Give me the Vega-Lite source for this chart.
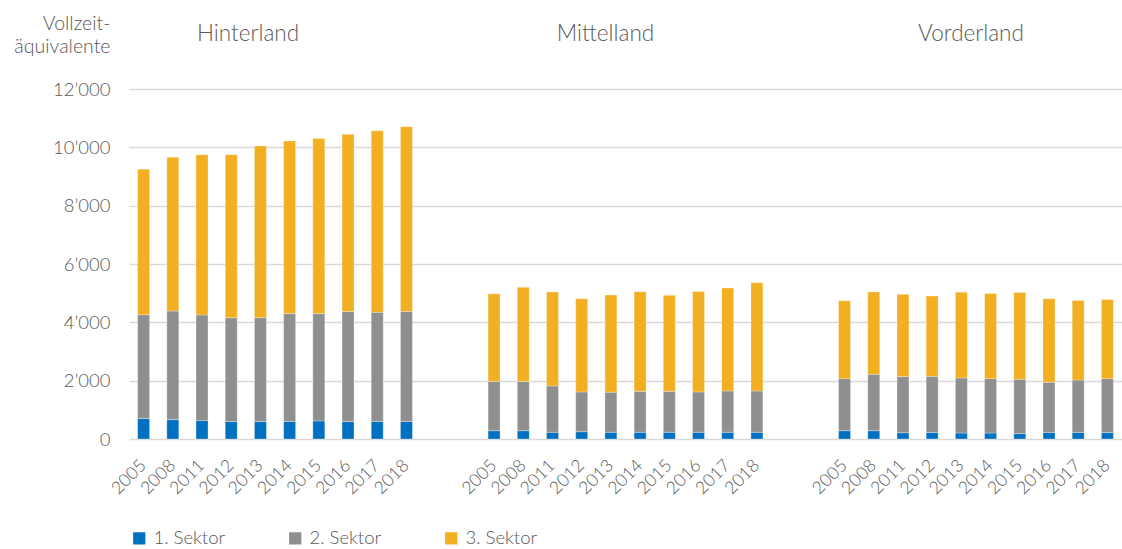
{
  "$schema": "https://vega.github.io/schema/vega-lite/v6.json",
  "width": 993,
  "height": 350,
  "autosize": {"type": "none"},
  "padding": {"left": 129, "top": 89, "right": 0, "bottom": 110},
  "background": "white",
  "config": {"view": {"stroke": null}, "font": "Lato"},
  "data": {
    "values": [
      {"region": "Hinterland", "year": "2005", "sector": "1. Sektor", "value": 700},
      {"region": "Hinterland", "year": "2005", "sector": "2. Sektor", "value": 3560},
      {"region": "Hinterland", "year": "2005", "sector": "3. Sektor", "value": 4990},
      {"region": "Hinterland", "year": "2008", "sector": "1. Sektor", "value": 665},
      {"region": "Hinterland", "year": "2008", "sector": "2. Sektor", "value": 3725},
      {"region": "Hinterland", "year": "2008", "sector": "3. Sektor", "value": 5270},
      {"region": "Hinterland", "year": "2011", "sector": "1. Sektor", "value": 630},
      {"region": "Hinterland", "year": "2011", "sector": "2. Sektor", "value": 3625},
      {"region": "Hinterland", "year": "2011", "sector": "3. Sektor", "value": 5490},
      {"region": "Hinterland", "year": "2012", "sector": "1. Sektor", "value": 600},
      {"region": "Hinterland", "year": "2012", "sector": "2. Sektor", "value": 3560},
      {"region": "Hinterland", "year": "2012", "sector": "3. Sektor", "value": 5590},
      {"region": "Hinterland", "year": "2013", "sector": "1. Sektor", "value": 600},
      {"region": "Hinterland", "year": "2013", "sector": "2. Sektor", "value": 3560},
      {"region": "Hinterland", "year": "2013", "sector": "3. Sektor", "value": 5890},
      {"region": "Hinterland", "year": "2014", "sector": "1. Sektor", "value": 600},
      {"region": "Hinterland", "year": "2014", "sector": "2. Sektor", "value": 3700},
      {"region": "Hinterland", "year": "2014", "sector": "3. Sektor", "value": 5920},
      {"region": "Hinterland", "year": "2015", "sector": "1. Sektor", "value": 620},
      {"region": "Hinterland", "year": "2015", "sector": "2. Sektor", "value": 3680},
      {"region": "Hinterland", "year": "2015", "sector": "3. Sektor", "value": 6000},
      {"region": "Hinterland", "year": "2016", "sector": "1. Sektor", "value": 600},
      {"region": "Hinterland", "year": "2016", "sector": "2. Sektor", "value": 3770},
      {"region": "Hinterland", "year": "2016", "sector": "3. Sektor", "value": 6080},
      {"region": "Hinterland", "year": "2017", "sector": "1. Sektor", "value": 600},
      {"region": "Hinterland", "year": "2017", "sector": "2. Sektor", "value": 3745},
      {"region": "Hinterland", "year": "2017", "sector": "3. Sektor", "value": 6220},
      {"region": "Hinterland", "year": "2018", "sector": "1. Sektor", "value": 600},
      {"region": "Hinterland", "year": "2018", "sector": "2. Sektor", "value": 3770},
      {"region": "Hinterland", "year": "2018", "sector": "3. Sektor", "value": 6340},
      {"region": "Mittelland", "year": "2005", "sector": "1. Sektor", "value": 285},
      {"region": "Mittelland", "year": "2005", "sector": "2. Sektor", "value": 1685},
      {"region": "Mittelland", "year": "2005", "sector": "3. Sektor", "value": 3010},
      {"region": "Mittelland", "year": "2008", "sector": "1. Sektor", "value": 285},
      {"region": "Mittelland", "year": "2008", "sector": "2. Sektor", "value": 1685},
      {"region": "Mittelland", "year": "2008", "sector": "3. Sektor", "value": 3230},
      {"region": "Mittelland", "year": "2011", "sector": "1. Sektor", "value": 230},
      {"region": "Mittelland", "year": "2011", "sector": "2. Sektor", "value": 1590},
      {"region": "Mittelland", "year": "2011", "sector": "3. Sektor", "value": 3220},
      {"region": "Mittelland", "year": "2012", "sector": "1. Sektor", "value": 250},
      {"region": "Mittelland", "year": "2012", "sector": "2. Sektor", "value": 1365},
      {"region": "Mittelland", "year": "2012", "sector": "3. Sektor", "value": 3195},
      {"region": "Mittelland", "year": "2013", "sector": "1. Sektor", "value": 230},
      {"region": "Mittelland", "year": "2013", "sector": "2. Sektor", "value": 1375},
      {"region": "Mittelland", "year": "2013", "sector": "3. Sektor", "value": 3330},
      {"region": "Mittelland", "year": "2014", "sector": "1. Sektor", "value": 230},
      {"region": "Mittelland", "year": "2014", "sector": "2. Sektor", "value": 1405},
      {"region": "Mittelland", "year": "2014", "sector": "3. Sektor", "value": 3415},
      {"region": "Mittelland", "year": "2015", "sector": "1. Sektor", "value": 230},
      {"region": "Mittelland", "year": "2015", "sector": "2. Sektor", "value": 1405},
      {"region": "Mittelland", "year": "2015", "sector": "3. Sektor", "value": 3290},
      {"region": "Mittelland", "year": "2016", "sector": "1. Sektor", "value": 230},
      {"region": "Mittelland", "year": "2016", "sector": "2. Sektor", "value": 1385},
      {"region": "Mittelland", "year": "2016", "sector": "3. Sektor", "value": 3445},
      {"region": "Mittelland", "year": "2017", "sector": "1. Sektor", "value": 230},
      {"region": "Mittelland", "year": "2017", "sector": "2. Sektor", "value": 1420},
      {"region": "Mittelland", "year": "2017", "sector": "3. Sektor", "value": 3525},
      {"region": "Mittelland", "year": "2018", "sector": "1. Sektor", "value": 230},
      {"region": "Mittelland", "year": "2018", "sector": "2. Sektor", "value": 1420},
      {"region": "Mittelland", "year": "2018", "sector": "3. Sektor", "value": 3710},
      {"region": "Vorderland", "year": "2005", "sector": "1. Sektor", "value": 285},
      {"region": "Vorderland", "year": "2005", "sector": "2. Sektor", "value": 1785},
      {"region": "Vorderland", "year": "2005", "sector": "3. Sektor", "value": 2670},
      {"region": "Vorderland", "year": "2008", "sector": "1. Sektor", "value": 285},
      {"region": "Vorderland", "year": "2008", "sector": "2. Sektor", "value": 1935},
      {"region": "Vorderland", "year": "2008", "sector": "3. Sektor", "value": 2820},
      {"region": "Vorderland", "year": "2011", "sector": "1. Sektor", "value": 215},
      {"region": "Vorderland", "year": "2011", "sector": "2. Sektor", "value": 1925},
      {"region": "Vorderland", "year": "2011", "sector": "3. Sektor", "value": 2820},
      {"region": "Vorderland", "year": "2012", "sector": "1. Sektor", "value": 225},
      {"region": "Vorderland", "year": "2012", "sector": "2. Sektor", "value": 1925},
      {"region": "Vorderland", "year": "2012", "sector": "3. Sektor", "value": 2750},
      {"region": "Vorderland", "year": "2013", "sector": "1. Sektor", "value": 205},
      {"region": "Vorderland", "year": "2013", "sector": "2. Sektor", "value": 1890},
      {"region": "Vorderland", "year": "2013", "sector": "3. Sektor", "value": 2940},
      {"region": "Vorderland", "year": "2014", "sector": "1. Sektor", "value": 205},
      {"region": "Vorderland", "year": "2014", "sector": "2. Sektor", "value": 1865},
      {"region": "Vorderland", "year": "2014", "sector": "3. Sektor", "value": 2920},
      {"region": "Vorderland", "year": "2015", "sector": "1. Sektor", "value": 185},
      {"region": "Vorderland", "year": "2015", "sector": "2. Sektor", "value": 1865},
      {"region": "Vorderland", "year": "2015", "sector": "3. Sektor", "value": 2970},
      {"region": "Vorderland", "year": "2016", "sector": "1. Sektor", "value": 225},
      {"region": "Vorderland", "year": "2016", "sector": "2. Sektor", "value": 1720},
      {"region": "Vorderland", "year": "2016", "sector": "3. Sektor", "value": 2865},
      {"region": "Vorderland", "year": "2017", "sector": "1. Sektor", "value": 225},
      {"region": "Vorderland", "year": "2017", "sector": "2. Sektor", "value": 1800},
      {"region": "Vorderland", "year": "2017", "sector": "3. Sektor", "value": 2725},
      {"region": "Vorderland", "year": "2018", "sector": "1. Sektor", "value": 225},
      {"region": "Vorderland", "year": "2018", "sector": "2. Sektor", "value": 1845},
      {"region": "Vorderland", "year": "2018", "sector": "3. Sektor", "value": 2715}
    ]
  },
  "encoding": {
    "x": {
      "field": "region",
      "type": "nominal",
      "sort": ["Hinterland", "Mittelland", "Vorderland"],
      "scale": {"paddingInner": 0.1667, "paddingOuter": 0},
      "axis": {
        "orient": "top",
        "title": null,
        "ticks": false,
        "domain": false,
        "grid": false,
        "labelAngle": 0,
        "labelFont": "Lato",
        "labelFontWeight": 300,
        "labelFontSize": 22.5,
        "labelColor": "#595959",
        "labelBaseline": "alphabetic",
        "labelPadding": 49,
        "labelOffset": {
          "condition": [
            {"test": "datum.value === 'Hinterland'", "value": -27},
            {"test": "datum.value === 'Mittelland'", "value": -20}
          ],
          "value": -5
        }
      }
    },
    "xOffset": {
      "field": "year",
      "type": "nominal",
      "scale": {"paddingInner": 0.59, "paddingOuter": 0.295}
    }
  },
  "layer": [
    {
      "mark": {"type": "bar", "stroke": "#ffffff", "strokeWidth": 0.6, "strokeOpacity": 0.5},
      "encoding": {
        "y": {
          "field": "value",
          "type": "quantitative",
          "stack": "zero",
          "scale": {"domain": [0, 12000], "nice": false},
          "axis": {
            "title": ["Vollzeit-", "äquivalente"],
            "titleAngle": 0,
            "titleAlign": "right",
            "titleBaseline": "alphabetic",
            "titleX": -19,
            "titleY": -60,
            "titleFont": "Lato",
            "titleFontSize": 19.5,
            "titleFontWeight": 300,
            "titleColor": "#595959",
            "titleLineHeight": 23,
            "values": [0, 2000, 4000, 6000, 8000, 10000, 12000],
            "labelExpr": "replace(format(datum.value, ','), ',', '’')",
            "labelFont": "Lato",
            "labelFontWeight": 300,
            "labelFontSize": 18.5,
            "labelColor": "#595959",
            "labelPadding": 19,
            "ticks": false,
            "domain": false,
            "grid": true,
            "gridColor": "#d9d9d9",
            "gridWidth": 1.3
          }
        },
        "color": {
          "field": "sector",
          "type": "nominal",
          "scale": {"domain": ["1. Sektor", "2. Sektor", "3. Sektor"], "range": ["#0070C0", "#8F8F8F", "#F2AF22"]},
          "legend": {
            "orient": "none",
            "legendX": 1,
            "legendY": 440,
            "direction": "horizontal",
            "title": null,
            "padding": 0,
            "symbolType": "square",
            "symbolSize": 150,
            "symbolStrokeWidth": 0,
            "labelFont": "Lato",
            "labelFontWeight": 300,
            "labelFontSize": 18.5,
            "labelColor": "#595959",
            "labelOffset": 5,
            "columnPadding": 60
          }
        },
        "order": {"field": "sector", "type": "nominal"}
      }
    },
    {
      "transform": [{"filter": "datum.sector === '1. Sektor'"}],
      "mark": {"type": "text", "angle": 315, "align": "right", "baseline": "middle", "dx": -17, "dy": 17, "font": "Lato", "fontWeight": 300, "fontSize": 17.5, "color": "#595959"},
      "encoding": {
        "text": {"field": "year", "type": "nominal"},
        "y": {"datum": 0}
      }
    }
  ]
}
